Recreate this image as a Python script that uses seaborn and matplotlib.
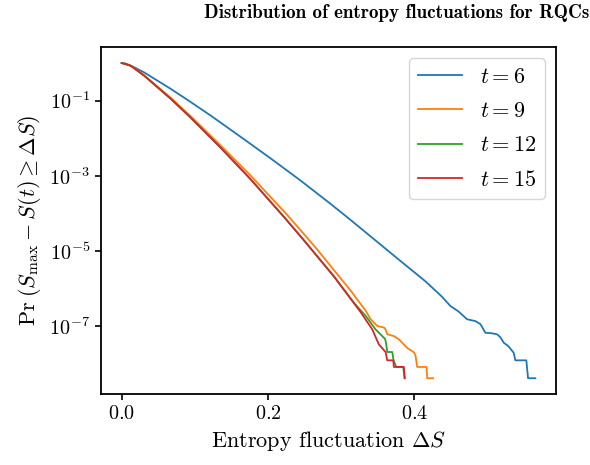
import matplotlib
matplotlib.use("Agg")
import matplotlib.pyplot as plt
import matplotlib.ticker as mticker
import seaborn as sns
import pandas as pd

# ---- data (dS, Pr) ----
labels = ["$t=6$", "$t=9$", "$t=12$", "$t=15$"]
colors = ["#1f77b4", "#ff7f0e", "#2ca02c", "#d62728"]

ds_t6 = [0.0, 0.0050, 0.0127, 0.0308, 0.0673, 0.0945, 0.1218, 0.1673, 0.2037,
         0.2446, 0.2855, 0.3105, 0.3810, 0.4150, 0.4370, 0.4493, 0.4601, 0.4720,
         0.4834, 0.4902, 0.4970, 0.5060, 0.5130, 0.5175, 0.5220, 0.5284, 0.5356,
         0.5379, 0.5529, 0.5553, 0.5652]
pr_t6 = [1.0, 0.977, 0.851, 0.562, 0.204, 0.0912, 0.0398, 9.33e-3, 2.88e-3,
         7.41e-4, 1.78e-4, 7.24e-5, 5.37e-6, 1.55e-6, 6.2e-7, 3.39e-7, 2.45e-7,
         1.51e-7, 1.35e-7, 1.12e-7, 6.6e-8, 6.4e-8, 6.0e-8, 5.0e-8, 3.6e-8,
         2.9e-8, 1.95e-8, 1.22e-8, 1.22e-8, 4.07e-9, 4.07e-9]

ds_t9 = [0.0, 0.0050, 0.0127, 0.0308, 0.0673, 0.0945, 0.1355, 0.1764, 0.2265,
         0.2538, 0.2674, 0.3129, 0.3333, 0.3401, 0.3493, 0.3583, 0.3606, 0.3629,
         0.3719, 0.3788, 0.3902, 0.3992, 0.4015, 0.4038, 0.4165, 0.4175, 0.4256]
pr_t9 = [1.0, 0.944, 0.841, 0.468, 0.1175, 0.0380, 6.31e-3, 1.0e-3, 8.91e-5,
         2.19e-5, 1.07e-5, 8.71e-7, 2.57e-7, 1.51e-7, 1.0e-7, 9.1e-8, 8.1e-8,
         6.0e-8, 5.4e-8, 4.4e-8, 2.6e-8, 2.0e-8, 1.63e-8, 8.13e-9, 8.13e-9,
         4.07e-9, 4.07e-9]

ds_t12 = [0.0, 0.0050, 0.0127, 0.0308, 0.0673, 0.0945, 0.1355, 0.1754, 0.2218,
          0.2469, 0.2900, 0.3173, 0.3333, 0.3469, 0.3561, 0.3600, 0.3615, 0.3629,
          0.3697, 0.3715, 0.3752, 0.3847, 0.3865]
pr_t12 = [1.0, 0.944, 0.841, 0.461, 0.1107, 0.0348, 5.51e-3, 8.38e-4, 7.98e-5,
          2.14e-5, 2.09e-6, 4.17e-7, 1.86e-7, 8.13e-8, 5.37e-8, 4.5e-8, 3.3e-8,
          2.03e-8, 2.03e-8, 1.22e-8, 8.13e-9, 8.13e-9, 4.07e-9]

ds_t15 = [0.0, 0.0050, 0.0127, 0.0308, 0.0673, 0.0945, 0.1355, 0.1754, 0.2218,
          0.2469, 0.2900, 0.3265, 0.3424, 0.3514, 0.3606, 0.3629, 0.3711, 0.3719,
          0.3855, 0.3869]
pr_t15 = [1.0, 0.944, 0.841, 0.461, 0.1107, 0.0348, 5.51e-3, 8.38e-4, 7.98e-5,
          2.14e-5, 2.09e-6, 2.34e-7, 8.13e-8, 3.24e-8, 2.03e-8, 1.22e-8, 1.22e-8,
          8.13e-9, 8.13e-9, 4.07e-9]

yticks = [1e-1, 1e-3, 1e-5, 1e-7]
xticks = [0.0, 0.2, 0.4]

# ---- build long table ----
frames = []
for lab, xs, ps in zip(labels, [ds_t6, ds_t9, ds_t12, ds_t15],
                       [pr_t6, pr_t9, pr_t12, pr_t15]):
    frames.append(pd.DataFrame({"dS": xs, "P": ps, "t": lab}))
df = pd.concat(frames, ignore_index=True)

plt.rcParams.update({
    "font.family": "cmr10",
    "mathtext.fontset": "cm",
    "axes.formatter.use_mathtext": True,
    "axes.unicode_minus": False,
    "axes.linewidth": 1.3,
    "xtick.major.width": 1.2,
    "ytick.major.width": 1.2,
    "xtick.major.size": 4.5,
    "ytick.major.size": 4.5,
})

fig = plt.figure(figsize=(5.9, 4.65), dpi=100)
ax = fig.add_axes([101 / 590, 1 - 394 / 465, 455 / 590, (394 - 47.3) / 465])

sns.lineplot(data=df, x="dS", y="P", hue="t", hue_order=labels,
             palette=colors, estimator=None, sort=False, units="t",
             linewidth=1.3, ax=ax)

ax.set_yscale("log")
ax.yaxis.set_major_locator(mticker.FixedLocator(yticks))
ax.yaxis.set_minor_locator(mticker.NullLocator())
ax.set_xticks(xticks)
ax.tick_params(axis="both", labelsize=14.5)

ax.set_xlabel(r"Entropy fluctuation $\Delta S$", fontsize=16)
ax.set_ylabel(r"$\mathrm{Pr}\;\left(S_{\max} - S(t) \geq \Delta S\right)$",
              fontsize=16)

handles, labs = ax.get_legend_handles_labels()
ax.legend(handles, labs, loc="upper right", fontsize=16, labelspacing=0.66)

fig.text(0.672, 0.972, "Distribution of entropy fluctuations for RQCs",
         fontfamily="cmb10", fontsize=13.7, ha="center", va="center")

fig.savefig("out.png", dpi=100)
